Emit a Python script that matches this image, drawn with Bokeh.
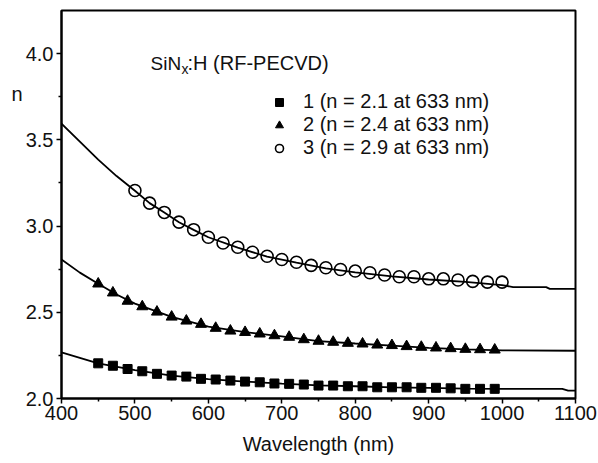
from bokeh.plotting import figure
from bokeh.models import (Label, Legend, LegendItem, Range1d, FixedTicker,
                          PrintfTickFormatter, LinearAxis)
from bokeh.embed import file_html
from bokeh.resources import INLINE

# ---- fitted curves (solid lines) ----
line1_nm = [400, 450, 500, 550, 600, 650, 700, 750, 800, 850, 900, 950, 1000, 1082, 1090, 1100]
line1_n = [2.267, 2.204, 2.164, 2.133, 2.112, 2.098, 2.086, 2.076, 2.071, 2.065, 2.062, 2.057, 2.056, 2.056, 2.046, 2.046]

line2_nm = [400, 425, 450, 475, 500, 550, 600, 650, 700, 750, 800, 850, 900, 950, 1000, 1100]
line2_n = [2.806, 2.730, 2.665, 2.603, 2.550, 2.473, 2.417, 2.385, 2.360, 2.333, 2.319, 2.307, 2.294, 2.285, 2.279, 2.277]

line3_nm = [400, 425, 450, 475, 500, 520, 540, 560, 580, 600, 640, 680, 720, 760, 800, 850, 900, 950, 1000, 1015, 1060, 1065, 1100]
line3_n = [3.594, 3.490, 3.385, 3.290, 3.205, 3.133, 3.078, 3.022, 2.978, 2.935, 2.875, 2.823, 2.788, 2.755, 2.732, 2.708, 2.690, 2.676, 2.658, 2.646, 2.646, 2.636, 2.636]

# ---- measured points ----
s1_nm = [450, 470, 490, 510, 530, 550, 570, 590, 610, 630, 650, 670, 690, 710,
         730, 750, 770, 790, 810, 830, 850, 870, 890, 910, 930, 950, 970, 990]
s1_n = [2.204, 2.190, 2.171, 2.158, 2.143, 2.133, 2.127, 2.114, 2.110, 2.104, 2.098, 2.094, 2.087, 2.085,
        2.081, 2.075, 2.075, 2.071, 2.071, 2.065, 2.065, 2.065, 2.062, 2.062, 2.059, 2.056, 2.056, 2.056]

s2_nm = [450, 470, 490, 510, 530, 550, 570, 590, 610, 630, 650, 670, 690, 710,
         730, 750, 770, 790, 810, 830, 850, 870, 890, 910, 930, 950, 970, 990]
s2_n = [2.665, 2.613, 2.565, 2.533, 2.502, 2.473, 2.450, 2.431, 2.408, 2.392, 2.384, 2.375, 2.365, 2.356,
        2.342, 2.333, 2.327, 2.321, 2.317, 2.311, 2.308, 2.302, 2.298, 2.294, 2.290, 2.286, 2.284, 2.282]

s3_nm = [500, 520, 540, 560, 580, 600, 620, 640, 660, 680, 700, 720, 740,
         760, 780, 800, 820, 840, 860, 880, 900, 920, 940, 960, 980, 1000]
s3_n = [3.206, 3.133, 3.079, 3.023, 2.979, 2.935, 2.902, 2.877, 2.848, 2.825, 2.806, 2.790, 2.772,
        2.758, 2.748, 2.739, 2.729, 2.716, 2.706, 2.706, 2.694, 2.694, 2.687, 2.679, 2.675, 2.675]

legend_labels = ["1 (n = 2.1 at 633 nm)", "2 (n = 2.4 at 633 nm)", "3 (n = 2.9 at 633 nm)"]

x_ticks = [400, 500, 600, 700, 800, 900, 1000, 1100]
x_minor = [450, 550, 650, 750, 850, 950, 1050]
y_ticks = [2.0, 2.5, 3.0, 3.5, 4.0]
y_minor = [2.25, 2.75, 3.25, 3.75]

FONT = "Liberation Sans"
TXT = "#111111"

p = figure(width=598, height=463, x_range=Range1d(400, 1100), y_range=Range1d(2.0, 4.25),
           output_backend="svg", toolbar_location=None,
           min_border_left=61, min_border_right=23, min_border_top=10, min_border_bottom=65)
p.background_fill_color = "white"
p.border_fill_color = "white"
p.xgrid.visible = False
p.ygrid.visible = False
p.outline_line_color = "black"
p.outline_line_width = 2
p.outline_line_alpha = 1

for ax in (p.xaxis[0], p.yaxis[0]):
    ax.axis_line_width = 2
    ax.axis_line_color = "black"
    ax.major_tick_line_width = 1.5
    ax.minor_tick_line_width = 1.5
    ax.major_tick_line_color = "black"
    ax.minor_tick_line_color = "black"
    ax.major_tick_out = 5
    ax.major_tick_in = 0
    ax.minor_tick_out = 3
    ax.minor_tick_in = 0
    ax.major_label_text_font = FONT
    ax.major_label_text_font_size = "20px"
    ax.major_label_text_color = TXT
    ax.axis_label_text_font = FONT
    ax.axis_label_text_font_size = "20px"
    ax.axis_label_text_font_style = "normal"
    ax.axis_label_text_color = TXT

p.xaxis.ticker = FixedTicker(ticks=x_ticks, minor_ticks=x_minor)
p.yaxis.ticker = FixedTicker(ticks=y_ticks, minor_ticks=y_minor)
p.yaxis.formatter = PrintfTickFormatter(format="%.1f")
p.xaxis.axis_label = "Wavelength (nm)"
p.xaxis.major_label_standoff = 2
p.xaxis.axis_label_standoff = 10
p.yaxis.major_label_standoff = 3

# second (label-only) left axis: the "n" title sits on the first line of a
# multi-line label so that it appears near the top of the axis
n_axis = LinearAxis(ticker=FixedTicker(ticks=[]),
                    axis_label="n" + "\n " * 9, axis_label_orientation="horizontal",
                    axis_label_standoff=0, axis_line_alpha=0,
                    major_tick_out=0, major_tick_in=0, minor_tick_out=0, minor_tick_in=0,
                    axis_label_text_font=FONT, axis_label_text_font_size="20px",
                    axis_label_text_line_height=1.12,
                    axis_label_text_font_style="normal", axis_label_text_color=TXT)
p.add_layout(n_axis, "left")

lw = 1.8
p.line(line1_nm, line1_n, line_color="black", line_width=lw)
p.line(line2_nm, line2_n, line_color="black", line_width=lw)
p.line(line3_nm, line3_n, line_color="black", line_width=lw)

r1 = p.scatter(s1_nm, s1_n, marker="square", size=9, fill_color="black", line_color="black")
r2 = p.scatter(s2_nm, s2_n, marker="triangle", size=11, fill_color="black", line_color="black")
r3 = p.scatter(s3_nm, s3_n, marker="circle", size=12, fill_alpha=0, line_color="black", line_width=1.6)

legend = Legend(items=[LegendItem(label=legend_labels[0], renderers=[r1]),
                       LegendItem(label=legend_labels[1], renderers=[r2]),
                       LegendItem(label=legend_labels[2], renderers=[r3])],
                location=(208, 239), orientation="vertical",
                padding=0, spacing=0, margin=0,
                glyph_width=20, glyph_height=22, label_height=22, label_standoff=14,
                label_text_font=FONT, label_text_font_size="20px", label_text_color=TXT,
                border_line_alpha=0, background_fill_alpha=0)
p.add_layout(legend, "center")

p.add_layout(Label(x=400, y=3.945, x_offset=89, text="SiN", text_align="left", text_baseline="alphabetic",
                   text_font=FONT, text_font_size="19px", text_color=TXT))
p.add_layout(Label(x=400, y=3.91, x_offset=120, text="x", text_align="left", text_baseline="alphabetic",
                   text_font=FONT, text_font_size="14px", text_color=TXT))
p.add_layout(Label(x=400, y=3.945, x_offset=126, text=":H (RF-PECVD)", text_align="left",
                   text_baseline="alphabetic",
                   text_font=FONT, text_font_size="20px", text_color=TXT))

open("out.html", "w").write(file_html(p, INLINE))
